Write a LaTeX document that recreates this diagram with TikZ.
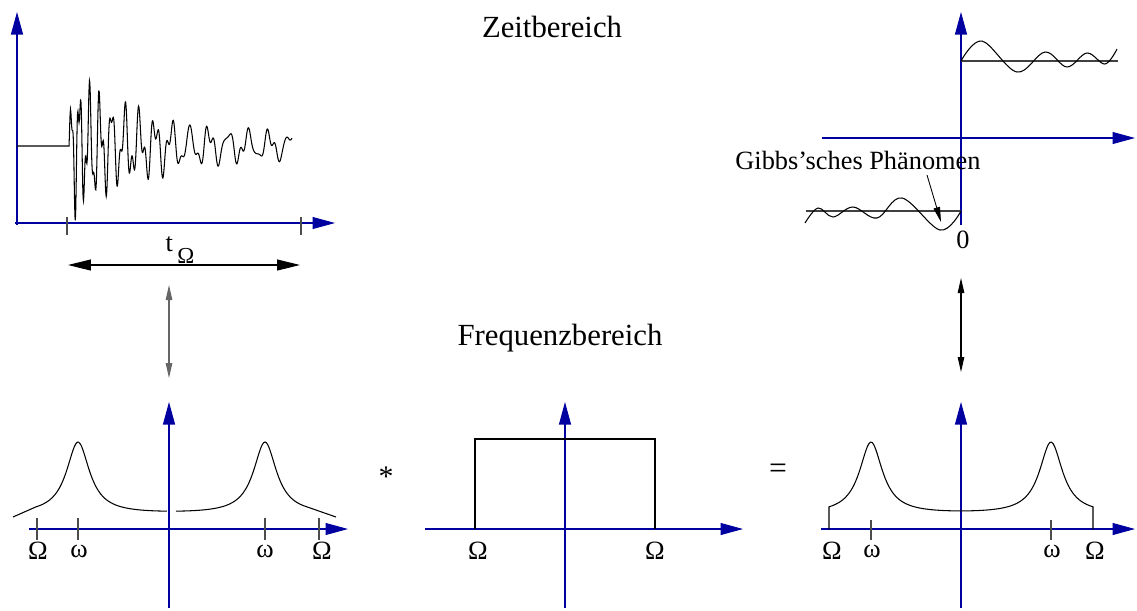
\documentclass[tikz,border=0pt]{standalone}
\usepackage{fontspec}
\setmainfont{Liberation Serif}
\usepackage{xcolor}
\usetikzlibrary{arrows.meta}
\definecolor{axisblue}{RGB}{0,0,160}

\begin{document}
\begin{tikzpicture}[
    x=0.02cm, y=-0.02cm,
    axis/.style={draw=axisblue, line width=0.6pt, -{Triangle[length=4.5mm, width=2.4mm]}},
    curve/.style={draw=black, line width=0.6pt},
    tickmark/.style={draw=black!70, line width=0.6pt},
    link/.style={{Triangle[length=3mm, width=1.3mm]}-{Triangle[length=3mm, width=1.3mm]}, line width=0.6pt},
    span/.style={{Triangle[length=4.6mm, width=2.2mm]}-{Triangle[length=4.6mm, width=2.2mm]}, line width=0.6pt},
    title/.style={font=\fontsize{17.5}{20}\selectfont},
    lbl/.style={font=\fontsize{15}{17}\selectfont},
    declare function={
      lor(\x,\p)=1/(1+((\x-\p)/14)^2);
      hl(\x)=14.7+71.9*(lor(\x,78)+lor(\x,265));
      hr(\x)=14.7+71.9*(lor(\x,871)+lor(\x,1051));
      phs(\t)=17*\t+1400*(1-exp(-\t/50));
      env(\t)=16+82*(1-exp(-\t/3))*exp(-\t/60);
      sig(\t)=env(\t)*(0.6*sin(phs(\t))+0.28*sin(2.3*phs(\t))+0.1*sin(53*\t));
    }
  ]
    \useasboundingbox (0,0) rectangle (1137,610);

    % Titles
    \node[title] (zeit) at (552,27) {Zeitbereich};
    \node[title] (freq) at (560,338) {Frequenzbereich};

    % Time signal (top left)
    \draw[axis] (17,225) -- (17,12);
    \draw[axis] (15,223) -- (335,223);
    \draw[tickmark] (67,217) -- (67,235);
    \draw[tickmark] (301,217) -- (301,235);
    \draw[curve] (17,146) -- (69,146)
      -- plot[domain=0:223, samples=600, variable=\t] ({69+\t}, {146-sig(\t)});
    \draw[span] (68,265) -- (300,265);
    \node[lbl] (t-omega) at (180,250) {t\,\raisebox{-0.45em}{\fontsize{13}{13}\selectfont Ω}};

    % Step with Gibbs ripples (top right)
    \draw[axis] (961,225) -- (961,12);
    \draw[axis] (822,138) -- (1135,138);
    \draw[curve, black!75] (961,61) -- (1118,61);
    \draw[curve, black!75] (806,211) -- (961,211);
    \draw[curve] plot[smooth, tension=0.6] coordinates {(961,61) (982,41) (1017,72) (1045,52) (1067,67) (1087,53) (1105,64) (1117,49)};
    \draw[curve] plot[smooth, tension=0.6] coordinates {(805,223) (818,208) (833,217) (853,207) (877,218) (902,198) (940,230) (961,211)};
    \node[lbl] (gibbs) at (858,160) {Gibbs’sches Phänomen};
    \coordinate (gibbs-from) at (927,175);
    \coordinate (gibbs-tip) at (941,222);
    \draw[-{Triangle[length=3mm, width=1.3mm]}, line width=0.5pt] (gibbs-from) -- (gibbs-tip);
    \node[lbl] (zero) at (963,240) {0};

    % Links between domains
    \coordinate (link-l-top) at (169,285);
    \coordinate (link-l-bot) at (169,378);
    \coordinate (link-r-top) at (961,278);
    \coordinate (link-r-bot) at (961,372);
    \draw[link, black!60] (link-l-top) -- (link-l-bot);
    \draw[link] (link-r-top) -- (link-r-bot);

    % Spectrum (bottom left)
    \draw[axis] (29,529) -- (348,529);
    \draw[axis] (169,608) -- (169,402);
    \foreach \tx in {37,78,265,319}
      \draw[tickmark] (\tx,518) -- (\tx,540);
    \draw[curve] (13,517) -- plot[domain=36:167, samples=90] (\x,{529-hl(\x)});
    \draw[curve] plot[domain=176:306, samples=90] (\x,{529-hl(\x)}) -- (336,517);
    \node[lbl] (om-l1) at (38,551) {Ω};
    \node[lbl] (w-l1) at (79,551) {ω};
    \node[lbl] (w-l2) at (265,551) {ω};
    \node[lbl] (om-l2) at (322,551) {Ω};

    % Window (bottom middle)
    \node[lbl, font=\fontsize{17}{19}\selectfont] (conv) at (386,477) {*};
    \draw[axis] (425,529) -- (743,529);
    \draw[axis] (565,608) -- (565,402);
    \draw[curve] (475,529) -- (475,439) -- (655,439) -- (655,529);
    \node[lbl] (om-m1) at (478,551) {Ω};
    \node[lbl] (om-m2) at (655,551) {Ω};

    % Result (bottom right)
    \node[lbl, font=\fontsize{18}{20}\selectfont] (equals) at (778,471) {=};
    \draw[axis] (821,529) -- (1135,529);
    \draw[axis] (961,608) -- (961,402);
    \foreach \tx in {871,1051}
      \draw[tickmark] (\tx,520) -- (\tx,540);
    \draw[curve] (829,529) -- plot[domain=829:1093, samples=160] (\x,{529-hr(\x)}) -- (1093,529);
    \node[lbl] (om-r1) at (832,551) {Ω};
    \node[lbl] (w-r1) at (872,551) {ω};
    \node[lbl] (w-r2) at (1052,551) {ω};
    \node[lbl] (om-r2) at (1095,551) {Ω};

  \end{tikzpicture}
\end{document}
